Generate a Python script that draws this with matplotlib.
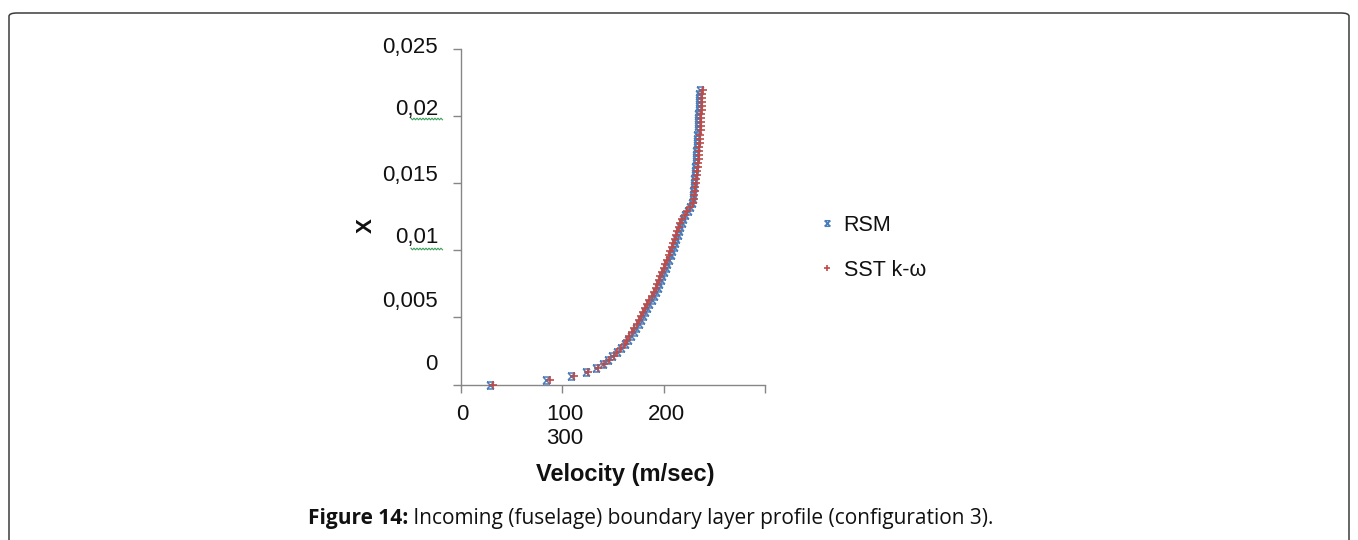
import matplotlib
matplotlib.use("Agg")
import numpy as np
import matplotlib.pyplot as plt
from matplotlib.path import Path
from matplotlib.patches import FancyBboxPatch
from matplotlib.lines import Line2D

# ---------------- data ----------------
height = [0.0, 0.0003, 0.0006, 0.0009, 0.0012, 0.0015, 0.0018, 0.0021, 0.0024, 0.0027,
          0.0030, 0.0033, 0.0036, 0.0039, 0.0042, 0.0045, 0.0048, 0.0051, 0.0054, 0.0057,
          0.0060, 0.0063, 0.0066, 0.0069, 0.0072, 0.0075, 0.0078, 0.0081, 0.0084, 0.0087,
          0.0090, 0.0093, 0.0096, 0.0099, 0.0102, 0.0105, 0.0108, 0.0111, 0.0114, 0.0117,
          0.0120, 0.0123, 0.0126, 0.0129, 0.0132, 0.0135, 0.0138, 0.0141, 0.0144, 0.0147,
          0.0150, 0.0153, 0.0156, 0.0159, 0.0162, 0.0165, 0.0168, 0.0171, 0.0174, 0.0177,
          0.0180, 0.0183, 0.0186, 0.0189, 0.0192, 0.0195, 0.0198, 0.0201, 0.0204, 0.0207,
          0.0210, 0.0213, 0.0216, 0.0219]

rsm_velocity = [29, 84, 109, 123, 133, 140.5, 145.5, 149.5, 153.8, 157.8,
                162, 165, 167.8, 170.4, 173, 175.6, 178, 180, 182, 184,
                186, 188, 190, 192, 194, 195.6, 197.2, 198.8, 200.4, 202,
                203.6, 205.2, 206.8, 208.4, 210, 211.3, 212.6, 213.9, 215.2, 216.5,
                217.7, 219.1, 221.4, 223.7, 226, 228.3, 228.8, 229.1, 229.4, 229.7,
                230.0, 230.3, 230.6, 230.9, 231.2, 231.5, 231.8, 232.0, 232.3, 232.5,
                232.8, 233.0, 233.3, 233.5, 233.7, 233.9, 234.1, 234.3, 234.5, 234.7,
                234.9, 235.1, 235.3, 235.5]

sst_velocity = [32, 88, 111.5, 125, 135, 141.5, 146.5, 150.5, 154.2, 158.2,
                162, 164, 166.2, 168.6, 171, 173.4, 176, 178, 180, 182,
                184, 186, 188, 190, 192, 193.6, 195.2, 196.8, 198.4, 200,
                201.6, 203.2, 204.8, 206.4, 208, 209.5, 210.8, 212.1, 213.6, 215.1,
                216.3, 217.9, 220.6, 223.3, 226, 228.7, 229.9, 230.4, 230.9, 231.4,
                231.9, 232.4, 232.8, 233.2, 233.6, 234.0, 234.4, 234.7, 235.0, 235.3,
                235.6, 235.9, 236.2, 236.4, 236.6, 236.8, 237.0, 237.2, 237.4, 237.6,
                237.8, 238.0, 238.2, 238.4]

x_ticks = [0, 100, 200, 300]
y_ticks = [0, 0.005, 0.01, 0.015, 0.02, 0.025]
y_tick_labels = ["0", "0,005", "0,01", "0,015", "0,02", "0,025"]
series_names = ["RSM", "SST k-ω"]
x_label = "Velocity (m/sec)"
y_label = "X"
caption_bold = "Figure 14:"
caption_text = " Incoming (fuselage) boundary layer profile (configuration 3)."

# ---------------- figure ----------------
W, H = 1358, 540
fig = plt.figure(figsize=(W / 100, H / 100), dpi=100)
fig.patch.set_facecolor("white")


def fx(px):
    return px / W


def fy(py):
    return 1 - py / H


SANS = ["Liberation Sans", "DejaVu Sans"]
AX_GRAY = "#868686"
BLUE = "#4a7ebb"
RED = "#be4b48"

# rounded frame around the figure panel
frame = FancyBboxPatch((fx(9), fy(600)), fx(1349) - fx(9), fy(13) - fy(600),
                       boxstyle="round,pad=0,rounding_size=0.006",
                       transform=fig.transFigure, fill=False,
                       edgecolor="#3c3c3c", linewidth=1.1, clip_on=True)
fig.patches.append(frame)

ax = fig.add_axes([fx(461), fy(384.5), fx(765) - fx(461), fy(48.5) - fy(384.5)])
ax.set_xlim(0, 300)
ax.set_ylim(0, 0.025)
ax.set_xticks(x_ticks)
ax.set_yticks(y_ticks)
ax.tick_params(direction="out", length=6, width=1.0, color=AX_GRAY,
               labelleft=False, labelbottom=False)
for side in ("top", "right"):
    ax.spines[side].set_visible(False)
for side in ("left", "bottom"):
    ax.spines[side].set_color(AX_GRAY)
    ax.spines[side].set_linewidth(1.0)
ax.patch.set_alpha(0)

# RSM marker: a cross closed by bars at top and bottom
rsm_marker = Path([(-1, -1), (1, 1), (-1, 1), (1, -1), (-1, 1), (1, 1), (-1, -1), (1, -1)],
                  [Path.MOVETO, Path.LINETO, Path.MOVETO, Path.LINETO,
                   Path.MOVETO, Path.LINETO, Path.MOVETO, Path.LINETO])

ax.plot(rsm_velocity, height, linestyle="none", marker=rsm_marker, markersize=5,
        markeredgewidth=1.1, markeredgecolor=BLUE, markerfacecolor="none",
        clip_on=False, label=series_names[0], zorder=3)
ax.plot(sst_velocity, height, linestyle="none", marker="+", markersize=6,
        markeredgewidth=1.2, markeredgecolor=RED, clip_on=False,
        label=series_names[1], zorder=4)

# y tick labels (placed as in the original layout)
y_label_rows = [365, 302, 238, 175, 110, 48]
for lab, row in zip(y_tick_labels, y_label_rows):
    fig.text(fx(438), fy(row), lab, ha="right", va="center", fontsize=16,
             family=SANS, color="#111111")

# spell-check squiggles under two of the labels
for row in (119, 249):
    xs = np.arange(411, 443, 1.5)
    ys = row + np.where(np.arange(len(xs)) % 2 == 0, -0.8, 0.8)
    fig.lines.append(Line2D(fx(xs), fy(ys), transform=fig.transFigure,
                            color="#3aa05a", linewidth=0.8))

# x tick labels
for lab, cx, row in (("0", 462, 414), ("100", 565, 414), ("200", 666, 414), ("300", 565, 439)):
    fig.text(fx(cx), fy(row), lab, ha="center", va="center", fontsize=16,
             family=SANS, color="#111111")

fig.text(fx(625), fy(481), x_label, ha="center", va="baseline", fontsize=17,
         fontweight="bold", family=SANS, color="#111111")
fig.text(fx(366), fy(226), y_label, ha="center", va="center", fontsize=16,
         fontweight="bold", rotation=90, family=SANS, color="#111111")

leg = ax.legend(loc="upper left", bbox_to_anchor=(fx(821), fy(215)),
                bbox_transform=fig.transFigure, frameon=False,
                prop={"family": SANS, "size": 15.5}, handlelength=0.6,
                handletextpad=0.45, labelspacing=1.1, borderpad=0, borderaxespad=0,
                markerscale=0.8)
for t in leg.get_texts():
    t.set_color("#111111")

# caption: bold lead-in followed by regular text
CAP = ["Open Sans", "DejaVu Sans"]
renderer = fig.canvas.get_renderer()
t_bold = fig.text(0, fy(524), caption_bold, ha="left", va="baseline", fontsize=15,
                  fontweight="bold", family=CAP, color="#111111")
t_reg = fig.text(0, fy(524), caption_text, ha="left", va="baseline", fontsize=15,
                 family=CAP, color="#111111")
wb = t_bold.get_window_extent(renderer).width
start = 408 - wb
t_bold.set_x(fx(start))
t_reg.set_x(fx(start + wb))

fig.savefig("out.png", dpi=100)
